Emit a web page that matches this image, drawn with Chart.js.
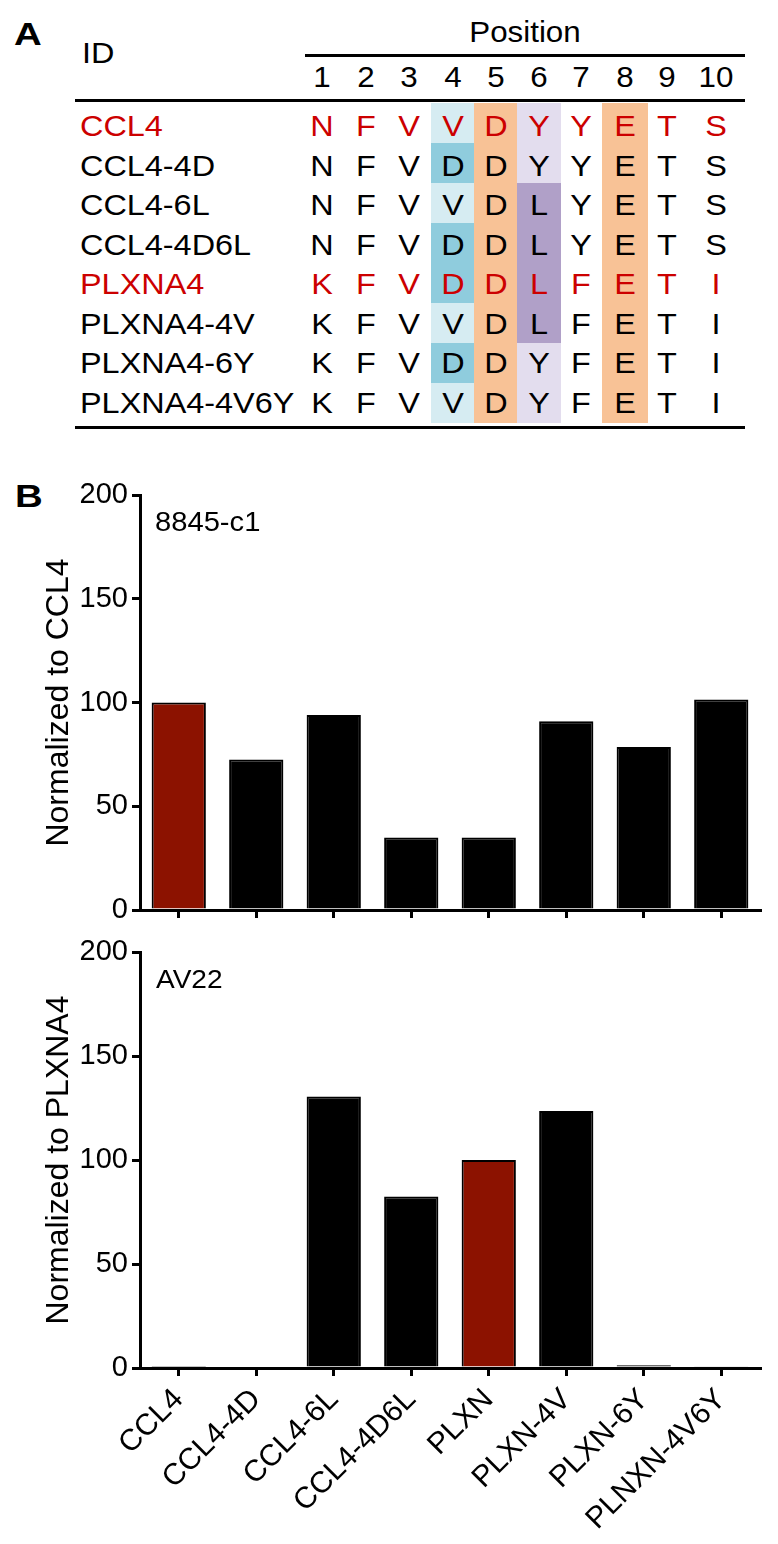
<!DOCTYPE html>
<html>
<head>
<meta charset="utf-8">
<script src="https://cdn.jsdelivr.net/npm/chart.js@4.4.0/dist/chart.umd.min.js"></script>
<style>
  body { margin: 0; background: #fff; }
  #fig { position: relative; width: 778px; height: 1544px; font-family: "Liberation Sans", Arial, sans-serif; color: #000; overflow: hidden; }
  .t { position: absolute; white-space: nowrap; transform: scaleX(1.08); transform-origin: left center; }
  .t.c { transform-origin: center center; }
  .panel { font-weight: bold; font-size: 32px; line-height: 32px; transform: scaleX(1.2); }
  .hr { position: absolute; height: 3px; background: #000; }
  .bg { position: absolute; }
  canvas { position: absolute; left: 0; }
</style>
</head>
<body>
<div id="fig">
  <div class="t panel" style="left:14px; top:18px;">A</div>
  <div class="t panel" style="left:15px; top:480px;">B</div>
  <div id="table"></div>
  <canvas id="chart1" width="778" height="470" style="top:470px"></canvas>
  <canvas id="chart2" width="778" height="619" style="top:925px"></canvas>
  <div class="t" style="left:155px; top:509px; font-size:27px; line-height:27px;">8845-c1</div>
  <div class="t" style="left:156px; top:966px; font-size:26px; line-height:26px;">AV22</div>
</div>
<script>
  // panel A: sequence table
  var positions = [1, 2, 3, 4, 5, 6, 7, 8, 9, 10];
  var seqIds = ["CCL4", "CCL4-4D", "CCL4-6L", "CCL4-4D6L", "PLXNA4", "PLXNA4-4V", "PLXNA4-6Y", "PLXNA4-4V6Y"];
  var seqs = ["NFVVDYYETS", "NFVDDYYETS", "NFVVDLYETS", "NFVDDLYETS", "KFVDDLFETI", "KFVVDLFETI", "KFVDDYFETI", "KFVVDYFETI"];
  var redIds = ["CCL4", "PLXNA4"];

  // panel B: bar values
  var categories = ["CCL4", "CCL4-4D", "CCL4-6L", "CCL4-4D6L", "PLXN", "PLXN-4V", "PLXN-6Y", "PLNXN-4V6Y"];
  var values8845 = [100, 72.5, 94, 35, 35, 91, 78.5, 101.5];
  var valuesAV22 = [1, 0.7, 130.5, 82.5, 100, 123.5, 1.3, 0.8];

  var RED_TEXT = "#cc0000";
  var RED_BAR = "#8c1200";
  var colX = [322, 366, 409, 452.5, 495.5, 539, 581, 625, 667, 716];

  function cellColor(col, aa) {
    if (col === 3) return aa === "D" ? "#8fccdd" : "#d6ecf2";
    if (col === 4 || col === 7) return "#f8c296";
    if (col === 5) return aa === "L" ? "#b0a0c8" : "#e3ddee";
    return null;
  }

  function addText(parent, txt, left, top, size, color, center) {
    var d = document.createElement("div");
    d.className = center ? "t c" : "t";
    d.textContent = txt;
    d.style.fontSize = size + "px";
    d.style.lineHeight = size + "px";
    d.style.top = top + "px";
    if (color) d.style.color = color;
    if (center) {
      d.style.left = left - 40 + "px";
      d.style.width = "80px";
      d.style.textAlign = "center";
    } else {
      d.style.left = left + "px";
    }
    parent.appendChild(d);
  }

  function buildTable() {
    var tbl = document.getElementById("table");
    addText(tbl, "ID", 82, 38, 30);
    var p = document.createElement("div");
    p.className = "t c";
    p.textContent = "Position";
    p.style.cssText = "left:305px;width:440px;text-align:center;top:18px;font-size:29px;line-height:29px;";
    tbl.appendChild(p);
    var lines = [[305, 54, 440], [75, 99, 670], [75, 426, 670]];
    lines.forEach(function (l) {
      var h = document.createElement("div");
      h.className = "hr";
      h.style.left = l[0] + "px";
      h.style.top = l[1] + "px";
      h.style.width = l[2] + "px";
      tbl.appendChild(h);
    });
    positions.forEach(function (n, j) {
      addText(tbl, String(n), colX[j], 62.5, 29, null, true);
    });
    seqIds.forEach(function (id, i) {
      var color = redIds.indexOf(id) >= 0 ? RED_TEXT : null;
      var rowC = 126 + 39.5 * i;
      for (var j = 0; j < 10; j++) {
        var bg = cellColor(j, seqs[i][j]);
        if (bg) {
          var b = document.createElement("div");
          b.className = "bg";
          var w = j === 7 ? 46 : 43.5;
          b.style.cssText = "left:" + (colX[j] - w / 2) + "px;top:" + (103 + 40 * i) + "px;width:" + w + "px;height:40px;background:" + bg + ";";
          tbl.appendChild(b);
        }
      }
      addText(tbl, id, 80, rowC - 14.6, 30, color);
      for (var j = 0; j < 10; j++) {
        addText(tbl, seqs[i][j], colX[j], rowC - 14.6, 30, color, true);
      }
    });
  }

  function makeChart(id, values, redIndex, yTitle, showLabels, padTop, xHeight) {
    var ctx = document.getElementById(id).getContext("2d");
    var colors = values.map(function (v, i) {
      return i === redIndex ? RED_BAR : "#000000";
    });
    return new Chart(ctx, {
      type: "bar",
      data: {
        labels: categories,
        datasets: [
          {
            data: values,
            backgroundColor: colors,
            borderColor: "#000000",
            borderWidth: 2,
            barPercentage: 0.7,
            categoryPercentage: 1.0,
          },
        ],
      },
      options: {
        responsive: false,
        animation: false,
        layout: { padding: { top: padTop, right: 18, left: 0, bottom: 0 } },
        plugins: { legend: { display: false }, tooltip: { enabled: false } },
        scales: {
          x: {
            offset: true,
            afterFit: function (s) {
              s.height = xHeight;
            },
            border: { display: true, color: "#000", width: 3 },
            grid: { display: true, drawOnChartArea: false, drawTicks: true, tickLength: 8, offset: false, color: "#000", lineWidth: 3 },
            ticks: {
              display: showLabels,
              autoSkip: false,
              minRotation: 45,
              maxRotation: 45,
              padding: 6,
              color: "#000",
              font: { size: 30 },
            },
          },
          y: {
            min: 0,
            max: 200,
            afterFit: function (s) {
              s.width = 140;
            },
            border: { display: true, color: "#000", width: 3 },
            grid: { display: true, drawOnChartArea: false, drawTicks: true, tickLength: 8, color: "#000", lineWidth: 3 },
            ticks: { stepSize: 50, padding: 4, color: "#000", font: { size: 29 } },
            title: {
              display: true,
              text: yTitle,
              color: "#000",
              font: { size: 32 },
              padding: { top: 40, bottom: 0 },
            },
          },
        },
      },
    });
  }

  Chart.defaults.font.family = '"Liberation Sans", Arial, sans-serif';
  buildTable();
  makeChart("chart1", values8845, 0, "Normalized to CCL4", false, 25, 30);
  makeChart("chart2", valuesAV22, 4, "Normalized to PLXNA4", true, 27, 176);
</script>
</body>
</html>
